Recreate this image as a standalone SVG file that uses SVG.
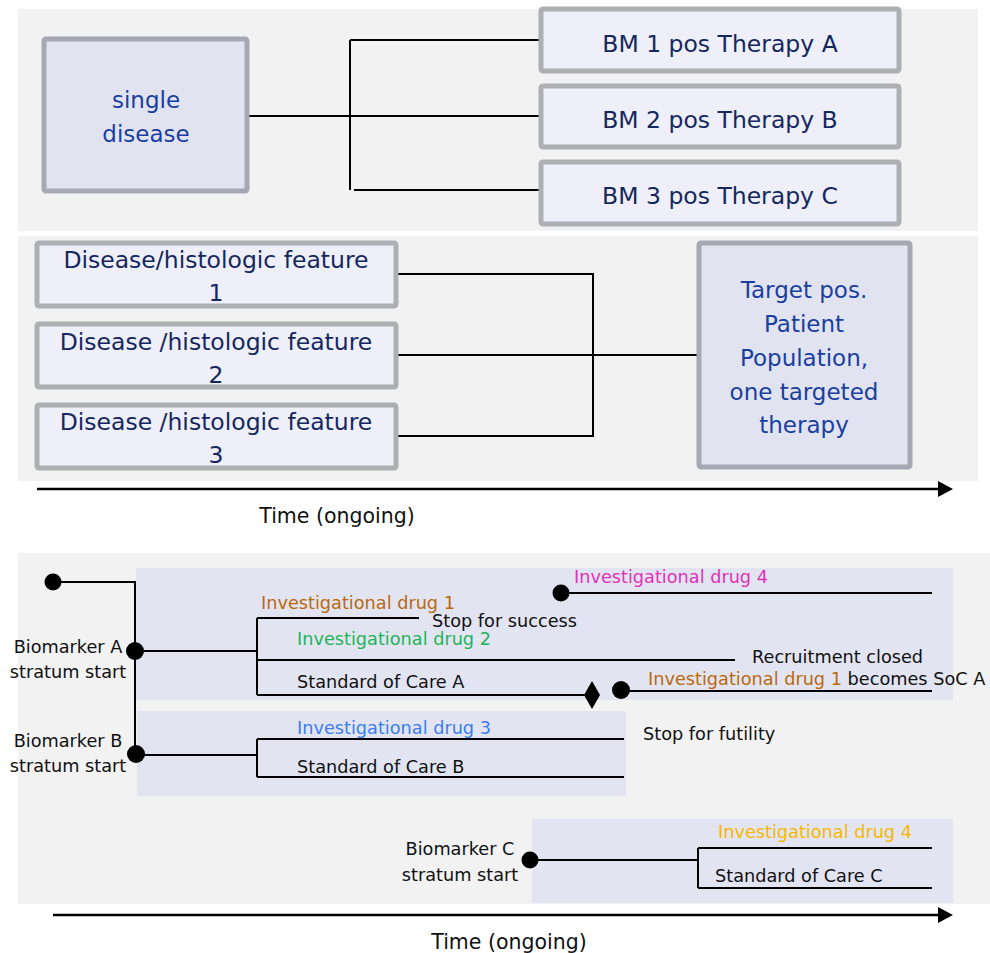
<svg xmlns="http://www.w3.org/2000/svg" width="990" height="953" viewBox="0 0 990 953">
<defs>
<style>
.panel{fill:#f2f2f2}
.box{fill:#e1e3f1;stroke:#a6a8b3;stroke-width:5}
.box2{fill:#eeeff8;stroke:#aeafb3;stroke-width:5}
.stratum{fill:#e2e4f1}
.t{font-family:"DejaVu Sans",Verdana,sans-serif}
.big{font-size:23px;fill:#1a3f9f;text-anchor:middle}
.nav{font-size:23.5px;fill:#15285e;text-anchor:middle}
.sm{font-size:17.7px}
.k{fill:#111}
.or{fill:#b8690f}
.gr{fill:#1fb45a}
.bl{fill:#3a7ef0}
.mg{fill:#e031b8}
.ye{fill:#f5b800}
.ln{stroke:#000;stroke-width:2;fill:none}
</style>
</defs>
<rect width="990" height="953" fill="#fff"/>
<rect class="panel" x="18" y="9" width="960" height="222"/>
<rect class="panel" x="18" y="236" width="960" height="245"/>
<rect class="panel" x="18" y="553" width="972" height="351"/>
<rect class="stratum" x="136" y="568" width="817" height="132"/>
<rect class="stratum" x="137" y="711" width="489" height="85"/>
<rect class="stratum" x="532" y="819" width="421" height="84"/>

<g id="connectors">
<path class="ln" d="M248,116 H540 M350,40 V190 M350,40 H540 M354,190 H540"/>
<path class="ln" d="M397,274 H593 V436 H397 M397,355 H697"/>
<path d="M37,489 H938" stroke="#000" stroke-width="2.5"/>
<path d="M938,481 L953,489 L938,497 z" fill="#000"/>
<path d="M53,915 H938" stroke="#000" stroke-width="2.5"/>
<path d="M938,907 L953,915 L938,923 z" fill="#000"/>
<path class="ln" d="M53,582 H135 V755 M135,651 H257 M257,618 V695 M257,618 H419 M257,660 H735 M257,695 H586 M620,691 H932 M561,593 H932"/>
<path class="ln" d="M136,755 H257 M257,739 V777 M257,739 H624 M257,777 H624"/>
<path class="ln" d="M530,860 H698 M698,848 V888 M698,848 H932 M698,888 H932"/>
<circle cx="53" cy="582" r="8.5"/>
<circle cx="135" cy="651" r="9"/>
<circle cx="136" cy="754" r="9"/>
<circle cx="561" cy="593" r="8.5"/>
<circle cx="621" cy="690" r="9"/>
<circle cx="530" cy="860" r="8.5"/>
<path d="M592,681 L600,695 L592,709 L584,695 z"/>
</g>

<g id="single-disease">
<rect class="box" x="44" y="39" width="203" height="152" rx="2"/>
<text class="t big" x="146" y="108">single</text>
<text class="t big" x="146" y="142">disease</text>
</g>
<g id="bm1">
<rect class="box2" x="541" y="9" width="358" height="62" rx="2"/>
<text class="t nav" x="720" y="52">BM 1 pos Therapy A</text>
</g>
<g id="bm2">
<rect class="box2" x="541" y="86" width="358" height="61" rx="2"/>
<text class="t nav" x="720" y="128">BM 2 pos Therapy B</text>
</g>
<g id="bm3">
<rect class="box2" x="541" y="162" width="358" height="62" rx="2"/>
<text class="t nav" x="720" y="204">BM 3 pos Therapy C</text>
</g>

<g id="feature1">
<rect class="box2" x="37" y="243" width="359" height="63" rx="2"/>
<text class="t nav" x="216" y="268">Disease/histologic feature</text>
<text class="t nav" x="216" y="301">1</text>
</g>
<g id="feature2">
<rect class="box2" x="37" y="324" width="359" height="63" rx="2"/>
<text class="t nav" x="216" y="350">Disease /histologic feature</text>
<text class="t nav" x="216" y="383">2</text>
</g>
<g id="feature3">
<rect class="box2" x="37" y="405" width="359" height="63" rx="2"/>
<text class="t nav" x="216" y="430">Disease /histologic feature</text>
<text class="t nav" x="216" y="463">3</text>
</g>
<g id="target">
<rect class="box" x="699" y="243" width="211" height="224" rx="2"/>
<text class="t big" x="804" y="298">Target pos.</text>
<text class="t big" x="804" y="332">Patient</text>
<text class="t big" x="804" y="366">Population,</text>
<text class="t big" x="804" y="400">one targeted</text>
<text class="t big" x="804" y="433">therapy</text>
</g>
<text class="t k" x="337" y="523" font-size="20.5" text-anchor="middle">Time (ongoing)</text>

<g id="labels-a">
<text class="t sm k" x="68" y="653" text-anchor="middle">Biomarker A</text>
<text class="t sm k" x="68" y="678" text-anchor="middle">stratum start</text>
<text class="t sm or" x="261" y="609">Investigational drug 1</text>
<text class="t sm k" x="432" y="627">Stop for success</text>
<text class="t sm gr" x="297" y="645">Investigational drug 2</text>
<text class="t sm k" x="752" y="663">Recruitment closed</text>
<text class="t sm k" x="297" y="688">Standard of Care A</text>
<text class="t sm k" x="648" y="685"><tspan class="or">Investigational drug 1</tspan> becomes SoC A</text>
<text class="t sm mg" x="574" y="583">Investigational drug 4</text>
</g>
<g id="labels-b">
<text class="t sm k" x="68" y="747" text-anchor="middle">Biomarker B</text>
<text class="t sm k" x="68" y="772" text-anchor="middle">stratum start</text>
<text class="t sm bl" x="297" y="734">Investigational drug 3</text>
<text class="t sm k" x="297" y="773">Standard of Care B</text>
<text class="t sm k" x="643" y="740">Stop for futility</text>
</g>
<g id="labels-c">
<text class="t sm k" x="460" y="855" text-anchor="middle">Biomarker C</text>
<text class="t sm k" x="460" y="881" text-anchor="middle">stratum start</text>
<text class="t sm ye" x="718" y="838">Investigational drug 4</text>
<text class="t sm k" x="715" y="882">Standard of Care C</text>
</g>
<text class="t k" x="509" y="949" font-size="20.5" text-anchor="middle">Time (ongoing)</text>
</svg>
